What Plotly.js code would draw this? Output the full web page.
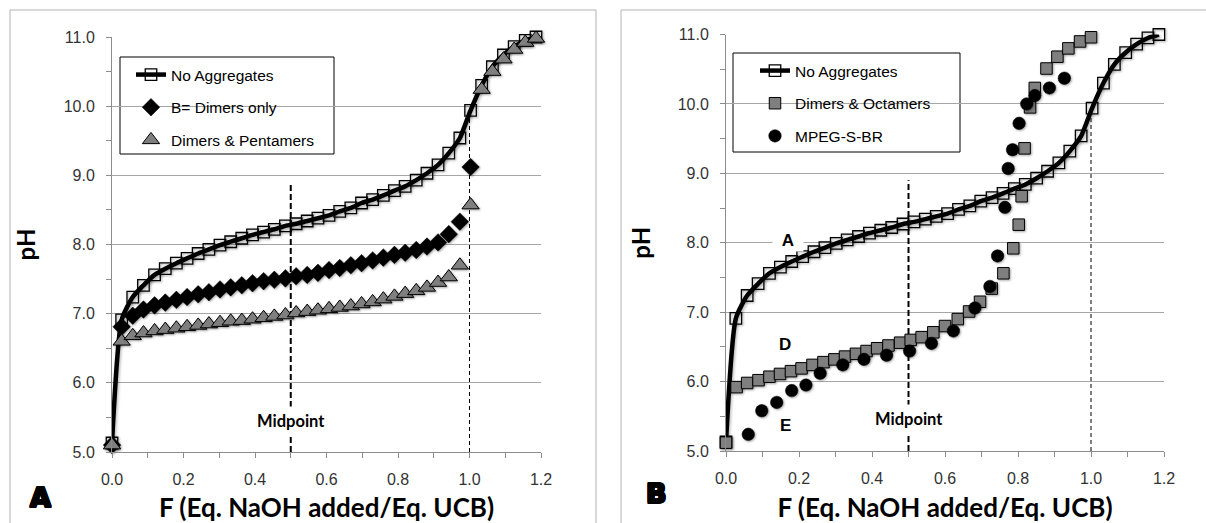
<!DOCTYPE html>
<html>
<head>
<meta charset="utf-8">
<script src="https://cdn.plot.ly/plotly-3.0.1.min.js"></script>
<style>
html,body{margin:0;padding:0;background:#fff}
#chart{width:1206px;height:523px}
#chart .scatterlayer .trace path.point{filter:drop-shadow(1.2px 1.8px 1.2px rgba(0,0,0,0.35));}
#chart .scatterlayer .trace path.js-line{filter:drop-shadow(1px 2px 1.5px rgba(0,0,0,0.3));}
</style>
</head>
<body>
<div id="chart"></div>
<script>
// ---- data ----
const F_noAgg = [0, 0.027, 0.058, 0.088, 0.119, 0.149, 0.180, 0.210, 0.241, 0.271, 0.302, 0.332, 0.363, 0.393, 0.424, 0.454, 0.485, 0.515, 0.546, 0.576, 0.607, 0.637, 0.668, 0.698, 0.729, 0.759, 0.790, 0.820, 0.851, 0.881, 0.912, 0.942, 0.973, 1.003, 1.034, 1.064, 1.095, 1.125, 1.156, 1.186];
const pH_noAgg = [5.13, 6.91, 7.24, 7.41, 7.56, 7.65, 7.73, 7.80, 7.87, 7.93, 7.99, 8.04, 8.09, 8.14, 8.18, 8.22, 8.27, 8.30, 8.34, 8.38, 8.42, 8.48, 8.53, 8.60, 8.65, 8.71, 8.78, 8.84, 8.93, 9.03, 9.15, 9.32, 9.54, 9.94, 10.30, 10.57, 10.74, 10.86, 10.95, 11.00];

const F_dimers = [0, 0.027, 0.058, 0.088, 0.119, 0.149, 0.180, 0.210, 0.241, 0.271, 0.302, 0.332, 0.363, 0.393, 0.424, 0.454, 0.485, 0.515, 0.546, 0.576, 0.607, 0.637, 0.668, 0.698, 0.729, 0.759, 0.790, 0.820, 0.851, 0.881, 0.912, 0.942, 0.973, 1.003];
const pH_dimers = [5.10, 6.81, 6.97, 7.06, 7.12, 7.16, 7.20, 7.24, 7.28, 7.31, 7.35, 7.38, 7.41, 7.44, 7.47, 7.49, 7.51, 7.54, 7.56, 7.59, 7.63, 7.66, 7.70, 7.73, 7.77, 7.81, 7.85, 7.88, 7.92, 7.97, 8.03, 8.15, 8.33, 9.12];

const F_pent = [0, 0.027, 0.058, 0.088, 0.119, 0.149, 0.180, 0.210, 0.241, 0.271, 0.302, 0.332, 0.363, 0.393, 0.424, 0.454, 0.485, 0.515, 0.546, 0.576, 0.607, 0.637, 0.668, 0.698, 0.729, 0.759, 0.790, 0.820, 0.851, 0.881, 0.912, 0.942, 0.973, 1.003, 1.034, 1.064, 1.095, 1.125, 1.156, 1.186];
const pH_pent = [5.10, 6.60, 6.68, 6.72, 6.75, 6.77, 6.79, 6.81, 6.83, 6.85, 6.87, 6.89, 6.90, 6.92, 6.94, 6.96, 6.98, 7.01, 7.03, 7.05, 7.07, 7.09, 7.11, 7.14, 7.17, 7.21, 7.25, 7.29, 7.33, 7.38, 7.45, 7.53, 7.70, 8.57, 10.24, 10.50, 10.68, 10.82, 10.92, 10.98];

const F_oct = [0, 0.029, 0.058, 0.089, 0.119, 0.148, 0.178, 0.207, 0.237, 0.267, 0.297, 0.326, 0.356, 0.385, 0.414, 0.445, 0.477, 0.506, 0.536, 0.568, 0.600, 0.635, 0.666, 0.696, 0.728, 0.760, 0.787, 0.802, 0.810, 0.818, 0.833, 0.846, 0.878, 0.908, 0.938, 0.970, 1.000];
const pH_oct = [5.12, 5.92, 5.98, 6.02, 6.07, 6.11, 6.15, 6.19, 6.24, 6.28, 6.32, 6.36, 6.40, 6.44, 6.48, 6.52, 6.56, 6.60, 6.64, 6.71, 6.80, 6.90, 7.01, 7.15, 7.34, 7.56, 7.92, 8.26, 8.67, 9.36, 9.95, 10.23, 10.51, 10.68, 10.80, 10.90, 10.96];

const F_mpeg = [0.061, 0.098, 0.139, 0.180, 0.219, 0.258, 0.320, 0.378, 0.440, 0.503, 0.563, 0.623, 0.682, 0.723, 0.744, 0.764, 0.773, 0.785, 0.803, 0.824, 0.846, 0.886, 0.927];
const pH_mpeg = [5.24, 5.58, 5.70, 5.87, 5.95, 6.12, 6.24, 6.32, 6.38, 6.44, 6.55, 6.73, 7.06, 7.37, 7.81, 8.51, 9.07, 9.34, 9.72, 10.00, 10.12, 10.23, 10.37];

const seriesNames = ['No Aggregates', 'B= Dimers only', 'Dimers & Pentamers', 'Dimers & Octamers', 'MPEG-S-BR'];
const xTitle = 'F (Eq. NaOH added/Eq. UCB)';
const yTitle = 'pH';

// ---- layout helpers ----
const W = 1206, H = 523;
const px = v => v / W;
const py = v => 1 - v / H;
const tickFont = {family: 'Liberation Sans, Arial, sans-serif', size: 16, color: '#333333'};
const titleFont = {family: 'Lato, Open Sans, sans-serif', size: 26, color: '#000', weight: 700};
const axisGray = '#8c8c8c';

function xAxis(domain, anchor) {
  return {
    domain: domain, anchor: anchor, range: [0, 1.2], tick0: 0, dtick: 0.2, tickformat: '.1f',
    ticks: 'outside', ticklen: 5, tickcolor: axisGray, tickwidth: 1,
    showline: true, linecolor: axisGray, linewidth: 1, showgrid: false, zeroline: false,
    minor: {dtick: 0.1, ticks: 'outside', ticklen: 5, tickcolor: axisGray, showgrid: false},
    tickfont: tickFont, ticklabelstandoff: 8,
    title: {text: xTitle, font: titleFont, standoff: 12}
  };
}
function yAxis(domain, anchor, standoff) {
  return {
    domain: domain, anchor: anchor, range: [5, 11], tick0: 5, dtick: 1, tickformat: '.1f',
    ticks: 'outside', ticklen: 5, tickcolor: axisGray, tickwidth: 1,
    showline: true, linecolor: axisGray, linewidth: 1,
    showgrid: true, gridcolor: '#a6a6a6', gridwidth: 1, zeroline: false,
    minor: {dtick: 0.5, ticks: 'outside', ticklen: 5, tickcolor: axisGray, showgrid: false},
    tickfont: tickFont, ticklabelstandoff: 8,
    title: {text: yTitle, font: {family: 'Lato, Open Sans, sans-serif', size: 24, color: '#000', weight: 700}, standoff: standoff}
  };
}

const traces = [
  {x: F_noAgg, y: pH_noAgg, xaxis: 'x', yaxis: 'y', name: seriesNames[0], legend: 'legend', legendgroup: 'a1',
   mode: 'lines+markers', cliponaxis: false,
   line: {color: '#000', width: 4.5, shape: 'spline', smoothing: 0.6},
   marker: {symbol: 'square-open', size: 11.5, color: '#000', line: {width: 1.3, color: '#000'}}},
  {x: F_dimers, y: pH_dimers, xaxis: 'x', yaxis: 'y', name: seriesNames[1], legend: 'legend', legendgroup: 'a2',
   mode: 'markers', cliponaxis: false,
   marker: {symbol: 'diamond', size: 13.5, color: '#000', line: {width: 0.5, color: '#000'}}},
  {x: F_pent, y: pH_pent, xaxis: 'x', yaxis: 'y', name: seriesNames[2], legend: 'legend', legendgroup: 'a3',
   mode: 'markers', cliponaxis: false,
   marker: {symbol: 'triangle-up', size: 15, color: '#7f7f7f', line: {width: 1, color: '#000'}}},
  {x: F_noAgg, y: pH_noAgg, xaxis: 'x2', yaxis: 'y2', name: seriesNames[0], legend: 'legend2', legendgroup: 'b1',
   mode: 'lines+markers', cliponaxis: false,
   line: {color: '#000', width: 4.5, shape: 'spline', smoothing: 0.6},
   marker: {symbol: 'square-open', size: 11.5, color: '#000', line: {width: 1.3, color: '#000'}}},
  {x: F_oct, y: pH_oct, xaxis: 'x2', yaxis: 'y2', name: seriesNames[3], legend: 'legend2', legendgroup: 'b2',
   mode: 'markers', cliponaxis: false,
   marker: {symbol: 'square', size: 11.5, color: '#7f7f7f', line: {width: 1, color: '#000'}}},
  {x: F_mpeg, y: pH_mpeg, xaxis: 'x2', yaxis: 'y2', name: seriesNames[4], legend: 'legend2', legendgroup: 'b3',
   mode: 'markers', cliponaxis: false,
   marker: {symbol: 'circle', size: 12.5, color: '#000', line: {width: 0.5, color: '#000'}}}
];

const legendFont = {family: 'Liberation Sans, Arial, sans-serif', size: 15.5, color: '#000'};
const legendBase = {xanchor: 'left', yanchor: 'top', bgcolor: 'rgba(0,0,0,0)', borderwidth: 0,
  font: legendFont, traceorder: 'grouped', tracegroupgap: 9.5, itemclick: false};

const midFont = {family: 'Lato, Open Sans, sans-serif', size: 16.5, color: '#000', weight: 700};
const letterFont = {family: 'Liberation Sans, Arial, sans-serif', size: 17, color: '#000', weight: 700};
const panelFont = {family: 'DejaVu Sans, sans-serif', size: 27, color: '#000', weight: 700,
  shadow: '1px 0 0 #000, -1px 0 0 #000, 0 1px 0 #000, 0 -1px 0 #000, 1px 1px 0 #000, -1px -1px 0 #000, 1px -1px 0 #000, -1px 1px 0 #000'};

const layout = {
  width: W, height: H, margin: {l: 0, r: 0, t: 0, b: 0},
  paper_bgcolor: '#fff', plot_bgcolor: 'rgba(0,0,0,0)', showlegend: true,
  xaxis: xAxis([px(112), px(541)], 'y'),
  yaxis: yAxis([1 - 452 / H, 1 - 37 / H], 'x', 21),
  xaxis2: xAxis([px(726), px(1164)], 'y2'),
  yaxis2: yAxis([1 - 451 / H, 1 - 34.5 / H], 'x2', 20),
  legend: Object.assign({x: px(131), y: py(58)}, legendBase),
  legend2: Object.assign({x: px(755), y: py(54)}, legendBase),
  shapes: [
    // panel frames
    {type: 'rect', xref: 'paper', yref: 'paper', x0: px(10), x1: px(596), y0: -0.2, y1: py(10), line: {color: '#b3b3b3', width: 1}, layer: 'below'},
    {type: 'rect', xref: 'paper', yref: 'paper', x0: px(621), x1: px(1230), y0: -0.2, y1: py(10), line: {color: '#b3b3b3', width: 1}, layer: 'below'},
    // legend boxes
    {type: 'rect', xref: 'paper', yref: 'paper', x0: px(120), x1: px(334), y0: py(154), y1: py(57), line: {color: '#000', width: 1}, fillcolor: '#fff', layer: 'between'},
    {type: 'rect', xref: 'paper', yref: 'paper', x0: px(733), x1: px(960), y0: py(152), y1: py(53), line: {color: '#000', width: 1}, fillcolor: '#fff', layer: 'between'},
    // midpoint and equivalence lines
    {type: 'line', xref: 'x', yref: 'y', x0: 0.5, x1: 0.5, y0: 5, y1: 8.9, line: {color: '#000', width: 2, dash: '6px,3px'}, layer: 'between'},
    {type: 'line', xref: 'x', yref: 'y', x0: 1.0, x1: 1.0, y0: 5, y1: 9.85, line: {color: '#000', width: 1, dash: '4px,3px'}, layer: 'between'},
    {type: 'line', xref: 'x2', yref: 'y2', x0: 0.5, x1: 0.5, y0: 5, y1: 8.9, line: {color: '#000', width: 2, dash: '6px,3px'}, layer: 'between'},
    {type: 'line', xref: 'x2', yref: 'y2', x0: 1.0, x1: 1.0, y0: 5, y1: 9.85, line: {color: '#000', width: 1, dash: '4px,3px'}, layer: 'between'}
  ],
  annotations: [
    {xref: 'x', yref: 'y', x: 0.5, y: 5.45, text: 'Midpoint', showarrow: false, font: midFont, bgcolor: '#fff', borderpad: 4},
    {xref: 'x2', yref: 'y2', x: 0.5, y: 5.46, text: 'Midpoint', showarrow: false, font: midFont, bgcolor: '#fff', borderpad: 4},
    {xref: 'x2', yref: 'y2', x: 0.171, y: 8.04, text: 'A', showarrow: false, font: letterFont, bgcolor: '#fff', width: 28, height: 20},
    {xref: 'x2', yref: 'y2', x: 0.162, y: 6.53, text: 'D', showarrow: false, font: letterFont},
    {xref: 'x2', yref: 'y2', x: 0.162, y: 5.37, text: 'E', showarrow: false, font: letterFont},
    {xref: 'paper', yref: 'paper', x: px(40), y: py(497), xanchor: 'center', yanchor: 'middle', text: 'A', showarrow: false, font: panelFont},
    {xref: 'paper', yref: 'paper', x: px(656), y: py(493), xanchor: 'center', yanchor: 'middle', text: 'B', showarrow: false, font: panelFont}
  ]
};

Plotly.newPlot('chart', traces, layout, {staticPlot: true, displayModeBar: false});
</script>
</body>
</html>
